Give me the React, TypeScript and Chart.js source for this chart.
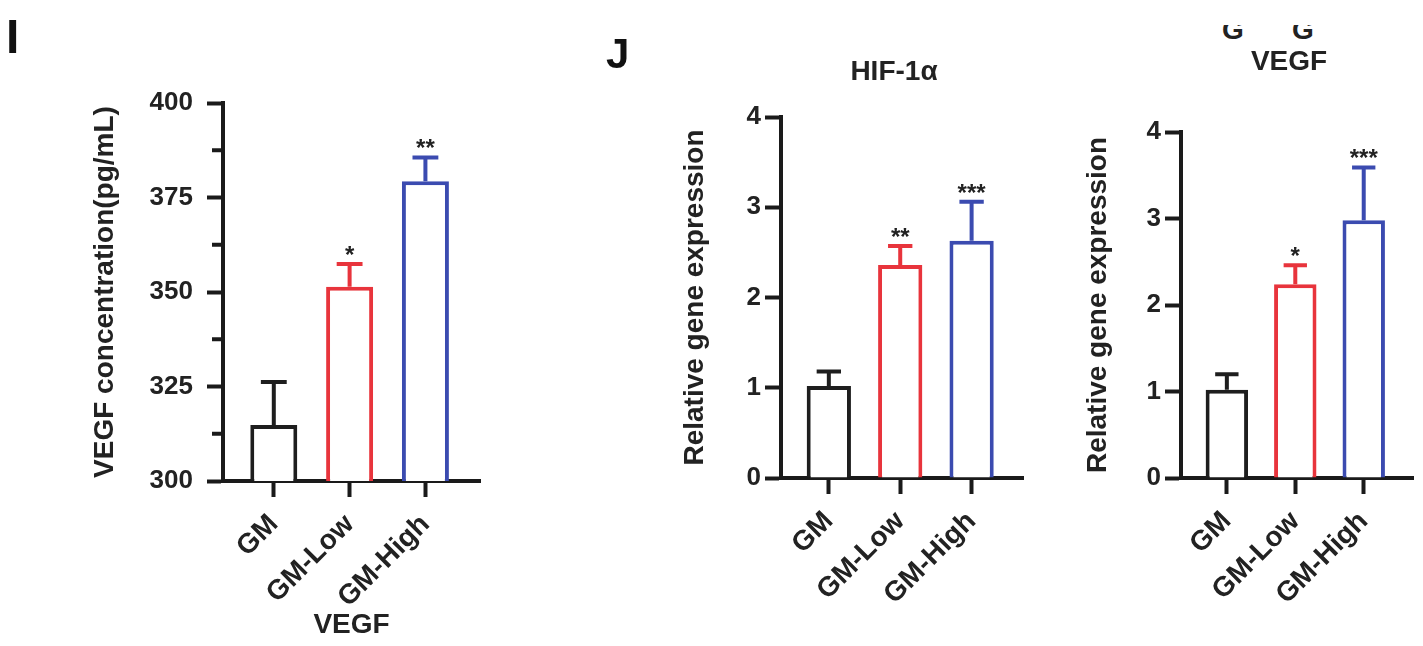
import React, { useEffect, useRef } from "react";
import { Chart, registerables } from "chart.js";

Chart.register(...registerables);

// ---------- data ----------
const categories = ["GM", "GM-Low", "GM-High"];

const vegfConcValues = [314.8, 351.4, 379.3];
const vegfConcErrors = [11.4, 6.0, 6.3];
const vegfConcStars = ["", "*", "**"];
const vegfConcTicks = [300, 325, 350, 375, 400];

const hifValues = [1.02, 2.36, 2.63];
const hifErrors = [0.16, 0.21, 0.43];
const hifStars = ["", "**", "***"];

const vegfGeneValues = [1.02, 2.24, 2.98];
const vegfGeneErrors = [0.18, 0.22, 0.61];
const vegfGeneStars = ["", "*", "***"];

const geneTicks = [0, 1, 2, 3, 4];

const barColors = ["#1e1e1e", "#e8343c", "#3b4bb0"];

// cropped remnants of the figure row above (bottom halves of glyphs)
const croppedGlyphs = ["G", "G"];

// ---------- styles ----------
const FONT = "'Liberation Sans', Arial, Helvetica, sans-serif";
const TEXT = "#222222";
const AXIS = "#1a1a1a";
const H = 646;

type Panel = {
  values: number[];
  errors: number[];
  stars: string[];
  ticks: number[];
  minorTicks: boolean;
  yTitle: string;
  xTitle?: string;
  title?: string;
  titleY?: number;
  letter?: string;
  letterX?: number;
  letterY?: number;
  letterSize?: number;
  canvasLeft: number;
  canvasWidth: number;
  axisLeft: number;
  areaRight: number;
  areaTop: number;
  areaBottom: number;
  yTitleX: number;
  yTickPad: number;
  yTickSize: number;
};

const decorPlugin = {
  id: "decor",
  afterDatasetsDraw(chart: any, _args: any, opts: any) {
    const ctx = chart.ctx as CanvasRenderingContext2D;
    const ys = chart.scales.y;
    const area = chart.chartArea;
    const meta = chart.getDatasetMeta(0);
    ctx.save();
    if (opts.minorTicks) {
      const t: number[] = opts.ticks;
      ctx.strokeStyle = AXIS;
      ctx.lineWidth = 4;
      for (let i = 0; i < t.length - 1; i++) {
        const v = (t[i] + t[i + 1]) / 2;
        const py = ys.getPixelForValue(v);
        ctx.beginPath();
        ctx.moveTo(area.left - 11, py);
        ctx.lineTo(area.left, py);
        ctx.stroke();
      }
    }
    meta.data.forEach((bar: any, i: number) => {
      const { x, y, width } = bar.getProps(["x", "y", "width"], true);
      const top = ys.getPixelForValue(opts.values[i] + opts.errors[i]);
      const cap = width * 0.55;
      ctx.strokeStyle = barColors[i];
      ctx.lineWidth = 4;
      ctx.lineCap = "butt";
      ctx.beginPath();
      ctx.moveTo(x, y);
      ctx.lineTo(x, top);
      ctx.moveTo(x - cap / 2, top);
      ctx.lineTo(x + cap / 2, top);
      ctx.stroke();
      if (opts.stars[i]) {
        ctx.fillStyle = TEXT;
        ctx.font = `bold 24px ${FONT}`;
        ctx.textAlign = "center";
        ctx.textBaseline = "alphabetic";
        ctx.fillText(opts.stars[i], x, top - 1);
      }
    });
    if (opts.title) {
      ctx.fillStyle = TEXT;
      ctx.font = `bold 28px ${FONT}`;
      ctx.textAlign = "center";
      ctx.textBaseline = "middle";
      ctx.fillText(opts.title, (area.left + area.right) / 2 - 8, opts.titleY);
    }
    if (opts.letter) {
      ctx.fillStyle = "#111";
      ctx.font = `bold ${opts.letterSize}px ${FONT}`;
      ctx.textAlign = "left";
      ctx.textBaseline = "alphabetic";
      ctx.fillText(opts.letter, opts.letterX, opts.letterY);
    }
    ctx.restore();
  },
};

function BarPanel({ p }: { p: Panel }) {
  const ref = useRef<HTMLCanvasElement>(null);
  useEffect(() => {
    if (!ref.current) return;
    const lh = 28 * 1.2;
    const chart = new Chart(ref.current, {
      type: "bar",
      data: {
        datasets: [
          {
            data: p.values.map((v, i) => ({ x: i, y: v })) as any,
            backgroundColor: "#ffffff",
            borderColor: barColors,
            borderWidth: 4,
            borderSkipped: "start",
            categoryPercentage: 1,
            barPercentage: 0.62,
          },
        ],
      },
      options: {
        responsive: false,
        maintainAspectRatio: false,
        animation: false,
        events: [],
        layout: {
          padding: {
            left: 0,
            top: p.areaTop,
            right: p.canvasWidth - (p.areaRight - p.canvasLeft),
            bottom: 0,
          },
        },
        plugins: {
          legend: { display: false },
          tooltip: { enabled: false },
          title: { display: false },
          decor: {
            values: p.values,
            errors: p.errors,
            stars: p.stars,
            ticks: p.ticks,
            minorTicks: p.minorTicks,
            title: p.title,
            titleY: p.titleY,
            letter: p.letter,
            letterX: p.letterX,
            letterY: p.letterY,
            letterSize: p.letterSize,
          },
        } as any,
        scales: {
          x: {
            type: "linear",
            min: -0.67,
            max: 2.72,
            offset: false,
            z: 1,
            afterBuildTicks: (s: any) => {
              s.ticks = categories.map((_, i) => ({ value: i }));
            },
            afterFit: (s: any) => {
              s.height = H - p.areaBottom;
            },
            ticks: {
              autoSkip: false,
              minRotation: 45,
              maxRotation: 45,
              padding: 11,
              color: TEXT,
              font: { family: FONT, size: 28, weight: "bold" },
              callback: (v: any) => categories[v as number] ?? "",
            },
            grid: {
              offset: false,
              drawOnChartArea: false,
              drawTicks: true,
              tickLength: 16,
              tickWidth: 4,
              tickColor: AXIS,
            },
            border: { display: true, width: 4, color: AXIS },
            title: p.xTitle
              ? {
                  display: true,
                  text: p.xTitle,
                  color: TEXT,
                  font: { family: FONT, size: 28, weight: "bold" },
                  padding: { top: 0, bottom: 4 },
                }
              : { display: false },
          },
          y: {
            type: "linear",
            min: p.ticks[0],
            max: p.ticks[p.ticks.length - 1],
            z: 1,
            afterBuildTicks: (s: any) => {
              s.ticks = p.ticks.map((v) => ({ value: v }));
            },
            afterFit: (s: any) => {
              s.width = p.axisLeft - p.canvasLeft;
            },
            ticks: {
              padding: p.yTickPad,
              color: TEXT,
              font: { family: FONT, size: p.yTickSize, weight: "bold" },
            },
            grid: {
              drawOnChartArea: false,
              drawTicks: true,
              tickLength: 16,
              tickWidth: 4,
              tickColor: AXIS,
            },
            border: { display: true, width: 4, color: AXIS },
            title: {
              display: true,
              text: p.yTitle,
              color: TEXT,
              font: { family: FONT, size: 28, weight: "bold" },
              padding: { top: p.yTitleX - p.canvasLeft - lh / 2, bottom: 0 },
            },
          },
        },
      } as any,
      plugins: [decorPlugin],
    });
    return () => chart.destroy();
  }, [p]);
  return (
    <canvas
      ref={ref}
      width={p.canvasWidth}
      height={H}
      style={{ position: "absolute", left: p.canvasLeft, top: 0, width: p.canvasWidth, height: H }}
    />
  );
}

const panelI: Panel = {
  values: vegfConcValues,
  errors: vegfConcErrors,
  stars: vegfConcStars,
  ticks: vegfConcTicks,
  minorTicks: true,
  yTitle: "VEGF concentration(pg/mL)",
  xTitle: "VEGF",
  letter: "I",
  letterX: 6,
  letterY: 53,
  letterSize: 48,
  canvasLeft: 0,
  canvasWidth: 560,
  axisLeft: 223,
  areaRight: 480,
  areaTop: 103,
  areaBottom: 481,
  yTitleX: 105,
  yTickPad: 14,
  yTickSize: 26,
};

const panelJ1: Panel = {
  values: hifValues,
  errors: hifErrors,
  stars: hifStars,
  ticks: geneTicks,
  minorTicks: false,
  yTitle: "Relative gene expression",
  title: "HIF-1α",
  titleY: 72,
  letter: "J",
  letterX: 46,
  letterY: 68,
  letterSize: 42,
  canvasLeft: 560,
  canvasWidth: 480,
  axisLeft: 781,
  areaRight: 1023,
  areaTop: 117,
  areaBottom: 478,
  yTitleX: 695,
  yTickPad: 4,
  yTickSize: 26,
};

const panelJ2: Panel = {
  values: vegfGeneValues,
  errors: vegfGeneErrors,
  stars: vegfGeneStars,
  ticks: geneTicks,
  minorTicks: false,
  yTitle: "Relative gene expression",
  title: "VEGF",
  titleY: 62,
  canvasLeft: 1040,
  canvasWidth: 383,
  axisLeft: 1181,
  areaRight: 1413,
  areaTop: 132,
  areaBottom: 478,
  yTitleX: 1098,
  yTickPad: 4,
  yTickSize: 26,
};

export default function App() {
  return (
    <div
      style={{
        position: "absolute",
        left: 0,
        top: 0,
        width: 1423,
        height: H,
        background: "#ffffff",
        overflow: "hidden",
      }}
    >
      <div
        style={{
          position: "absolute",
          left: 1215,
          top: 25,
          width: 120,
          height: 14,
          overflow: "hidden",
        }}
      >
        {croppedGlyphs.map((g, i) => (
          <span
            key={i}
            style={{
              position: "absolute",
              left: 7 + i * 70,
              top: -9,
              font: `bold 28px/28px ${FONT}`,
              color: TEXT,
            }}
          >
            {g}
          </span>
        ))}
      </div>
      <BarPanel p={panelI} />
      <BarPanel p={panelJ1} />
      <BarPanel p={panelJ2} />
    </div>
  );
}
